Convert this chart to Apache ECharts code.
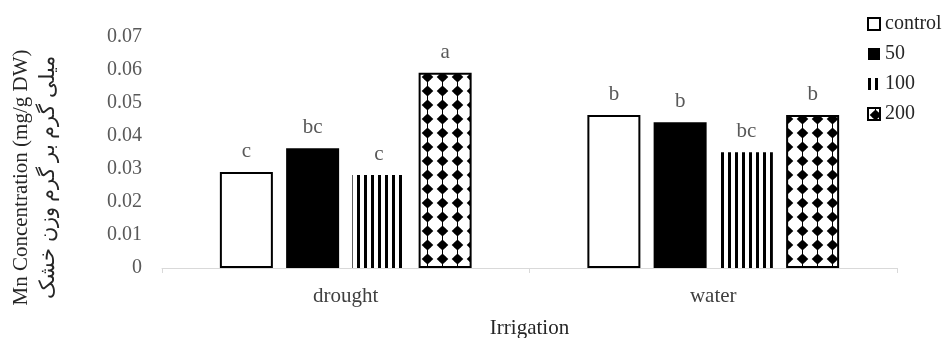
<!DOCTYPE html>
<html>
<head>
<meta charset="utf-8">
<script src="https://cdn.jsdelivr.net/npm/echarts@6/dist/echarts.min.js"></script>
<style>
  html, body { margin: 0; padding: 0; background: #fff; }
</style>
</head>
<body>
<div id="chart_mn" style="width:944px; height:338px;"></div>
<script>
  // data
  let categories = ['drought', 'water']
  let seriesNames = ['control', '50', '100', '200']
  let controlValues = [0.0291, 0.0464]
  let values50 = [0.0363, 0.0442]
  let values100 = [0.0282, 0.0351]
  let values200 = [0.0592, 0.0464]
  let controlLetters = ['c', 'b']
  let letters50 = ['bc', 'b']
  let letters100 = ['c', 'bc']
  let letters200 = ['a', 'b']
  let yTicks = [0, 0.01, 0.02, 0.03, 0.04, 0.05, 0.06, 0.07]

  let font = '"Liberation Serif", "Times New Roman", serif'

  // vertical stripes
  function stripePattern () {
    let c = document.createElement('canvas')
    c.width = 7
    c.height = 4
    let ctx = c.getContext('2d')
    ctx.fillStyle = '#fff'
    ctx.fillRect(0, 0, 7, 4)
    ctx.fillStyle = '#000'
    ctx.fillRect(0, 0, 3, 4)
    return c
  }

  // black four-point stars on white
  function dotPattern () {
    let w = 15
    let h = 14
    let c = document.createElement('canvas')
    c.width = w
    c.height = h
    let ctx = c.getContext('2d')
    ctx.fillStyle = '#fff'
    ctx.fillRect(0, 0, w, h)
    ctx.fillStyle = '#000'
    let cx = w / 2
    let cy = h / 2
    ctx.beginPath()
    ctx.arc(cx, cy, 3.6, 0, Math.PI * 2)
    ctx.fill()
    ctx.beginPath()
    ctx.moveTo(cx - 5.8, cy)
    ctx.lineTo(cx, cy - 5.4)
    ctx.lineTo(cx + 5.8, cy)
    ctx.lineTo(cx, cy + 5.4)
    ctx.closePath()
    ctx.fill()
    ctx.fillRect(cx - 0.5, 0, 1, h)
    return c
  }

  function makeSeries (name, data, letters, itemStyle) {
    return {
      name: name,
      type: 'bar',
      barWidth: 53,
      barGap: '25%',
      data: data,
      itemStyle: itemStyle,
      label: {
        show: true,
        position: 'top',
        distance: 10,
        color: '#595959',
        fontFamily: font,
        fontSize: 21,
        formatter: function (p) {
          return letters[p.dataIndex]
        }
      }
    }
  }

  let chart = echarts.init(document.getElementById('chart_mn'))
  let options = {
    animation: false,
    backgroundColor: '#fff',
    grid: {
      left: 162,
      right: 47,
      top: 37,
      bottom: 70,
      outerBoundsMode: 'none'
    },
    legend: {
      orient: 'vertical',
      left: 862,
      top: 9,
      icon: 'rect',
      itemWidth: 12,
      itemHeight: 12,
      itemGap: 10,
      textStyle: {
        fontFamily: font,
        fontSize: 20,
        color: '#262626'
      },
      data: seriesNames
    },
    xAxis: {
      type: 'category',
      data: categories,
      name: 'Irrigation',
      nameLocation: 'middle',
      nameGap: 50,
      nameTextStyle: {
        fontFamily: font,
        fontSize: 21,
        color: '#262626'
      },
      axisLine: { lineStyle: { color: '#d9d9d9', width: 1 } },
      axisTick: { show: true, length: 5, lineStyle: { color: '#d9d9d9' } },
      axisLabel: {
        margin: 18,
        fontFamily: font,
        fontSize: 21,
        color: '#404040'
      }
    },
    yAxis: {
      type: 'value',
      min: yTicks[0],
      max: yTicks[yTicks.length - 1],
      interval: 0.01,
      name: 'Mn Concentration (mg/g DW)\nمیلی گرم بر گرم وزن خشک',
      nameLocation: 'middle',
      nameGap: 100,
      nameTextStyle: {
        fontFamily: font,
        fontSize: 21,
        lineHeight: 27,
        color: '#262626',
        padding: [0, 50, 0, 0]
      },
      axisLine: { show: false },
      axisTick: { show: false },
      splitLine: { show: false },
      axisLabel: {
        margin: 20,
        fontFamily: font,
        fontSize: 20,
        color: '#595959',
        formatter: function (v) {
          return v === 0 ? '0' : v.toFixed(2)
        }
      }
    },
    series: [
      makeSeries('control', controlValues, controlLetters, {
        color: '#fff', borderColor: '#000', borderWidth: 2
      }),
      makeSeries('50', values50, letters50, {
        color: '#000'
      }),
      makeSeries('100', values100, letters100, {
        color: { image: stripePattern(), repeat: 'repeat' }
      }),
      makeSeries('200', values200, letters200, {
        color: { image: dotPattern(), repeat: 'repeat' }, borderColor: '#000', borderWidth: 2
      })
    ]
  }
  chart.setOption(options)
</script>
</body>
</html>
